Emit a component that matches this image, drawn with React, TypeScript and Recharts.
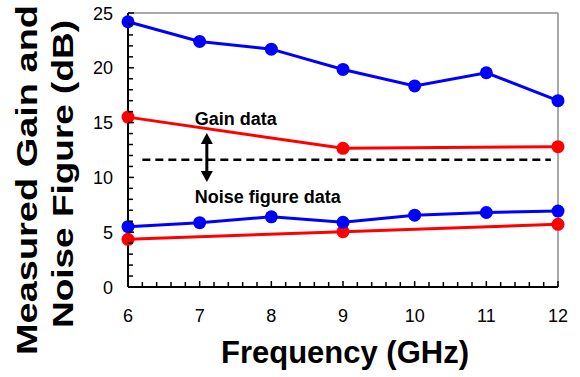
import React from "react";
import { LineChart, Line, XAxis, YAxis, ReferenceLine, ReferenceDot } from "recharts";

const freqGHz = [6, 7, 8, 9, 10, 11, 12];
const gainMeasured = [24.2, 22.4, 21.7, 19.85, 18.35, 19.55, 17.0];
const gainSimulated = [15.5, null, null, 12.65, null, null, 12.8];
const nfMeasured = [5.5, 5.87, 6.4, 5.9, 6.55, 6.8, 6.93];
const nfSimulated = [4.35, null, null, 5.05, null, null, 5.72];

const yMajorTicks = [0, 5, 10, 15, 20, 25];
const xMajorTicks = [6, 7, 8, 9, 10, 11, 12];
const dividerLevel = 11.6;
const dividerStart = 6.2;
const dividerEnd = 11.9;
const arrowX = 7.1;
const arrowTop = 14.05;
const arrowBottom = 9.58;
const gainLabel = { x: 6.93, y: 14.78, text: "Gain data" };
const nfLabel = { x: 6.93, y: 7.66, text: "Noise figure data" };

const data = freqGHz.map((f, i) => ({
  f,
  gm: gainMeasured[i],
  gs: gainSimulated[i],
  nm: nfMeasured[i],
  ns: nfSimulated[i],
}));

const yTicks: number[] = [];
for (let v = 0; v <= 25; v += 1) yTicks.push(v);
const xTicks: number[] = [];
for (let k = 0; k <= 30; k += 1) xTicks.push(Math.round((6 + k * 0.2) * 10) / 10);

const FONT = "'Liberation Sans', Arial, Helvetica, sans-serif";
const BLUE = "#0000ff";
const RED = "#ff0000";

const YTick = (props: any) => {
  const { x, y, payload } = props;
  const v = payload.value;
  const major = yMajorTicks.includes(v);
  return (
    <g>
      <line x1={x} x2={x + (major ? 6 : 5)} y1={y} y2={y} stroke="#000" strokeWidth={1.5} />
      {major && (
        <text x={x - 15} y={y} dy={6.5} textAnchor="end" fontSize={18} fontFamily={FONT} fill="#000">
          {v}
        </text>
      )}
    </g>
  );
};

const XTick = (props: any) => {
  const { x, y, payload } = props;
  const v = payload.value;
  const major = xMajorTicks.some((m) => Math.abs(m - v) < 1e-6);
  return (
    <g>
      <line x1={x} x2={x} y1={y} y2={y - (major ? 6 : 5)} stroke="#000" strokeWidth={1.5} />
      {major && (
        <text x={x} y={y + 35} textAnchor="middle" fontSize={18} fontFamily={FONT} fill="#000">
          {Math.round(v)}
        </text>
      )}
    </g>
  );
};

const YTitle = (props: any) => {
  const { viewBox } = props;
  const cy = viewBox.y + viewBox.height / 2 + 27;
  return (
    <g fontFamily={FONT} fontWeight="bold" fontSize={30} fill="#000">
      <text
        transform={`translate(37, ${cy + 3}) rotate(-90)`}
        textAnchor="middle"
        textLength={350}
        lengthAdjust="spacingAndGlyphs"
      >
        Measured Gain and
      </text>
      <text
        transform={`translate(73, ${cy - 3}) rotate(-90)`}
        textAnchor="middle"
        textLength={308}
        lengthAdjust="spacingAndGlyphs"
      >
        Noise Figure (dB)
      </text>
    </g>
  );
};

const XTitle = (props: any) => {
  const { viewBox } = props;
  const cx = viewBox.x + viewBox.width / 2 + 2;
  return (
    <text x={cx} y={363} textAnchor="middle" fontFamily={FONT} fontWeight="bold" fontSize={31} fill="#000">
      Frequency (GHz)
    </text>
  );
};

const ArrowShape = (props: any) => {
  const { x1, y1, y2 } = props;
  const top = Math.min(y1, y2);
  const bot = Math.max(y1, y2);
  const hl = 11;
  const hw = 6;
  return (
    <g>
      <line x1={x1} x2={x1} y1={top + hl - 1} y2={bot - hl + 1} stroke="#000" strokeWidth={3} />
      <polygon points={`${x1},${top} ${x1 - hw},${top + hl} ${x1 + hw},${top + hl}`} fill="#000" />
      <polygon points={`${x1},${bot} ${x1 - hw},${bot - hl} ${x1 + hw},${bot - hl}`} fill="#000" />
    </g>
  );
};

const makeTextShape = (text: string) => (props: any) => {
  const { cx, cy } = props;
  return (
    <text x={cx} y={cy} fontFamily={FONT} fontWeight="bold" fontSize={18} fill="#000">
      {text}
    </text>
  );
};

export default function App() {
  return (
    <div style={{ position: "absolute", left: 0, top: 0, width: 580, height: 377, background: "#fff" }}>
      <LineChart width={580} height={377} data={data} margin={{ top: 13, right: 22, bottom: 0, left: 0 }}>
        <XAxis
          dataKey="f"
          type="number"
          domain={[6, 12]}
          ticks={xTicks}
          interval={0}
          tickSize={0}
          tickMargin={0}
          tickLine={false}
          tick={<XTick />}
          height={90}
          axisLine={{ stroke: "#000", strokeWidth: 2 }}
          label={{ content: <XTitle /> } as any}
        />
        <YAxis
          type="number"
          domain={[0, 25]}
          ticks={yTicks}
          interval={0}
          tickSize={0}
          tickMargin={0}
          tickLine={false}
          tick={<YTick />}
          width={128}
          axisLine={{ stroke: "#000", strokeWidth: 2 }}
          label={{ content: <YTitle /> } as any}
        />
        <ReferenceLine y={25} stroke="#8c8c8c" strokeWidth={1.5} />
        <ReferenceLine x={12} stroke="#8c8c8c" strokeWidth={1.5} />
        <ReferenceLine
          segment={[
            { x: dividerStart, y: dividerLevel },
            { x: dividerEnd, y: dividerLevel },
          ]}
          stroke="#000"
          strokeWidth={2.5}
          strokeDasharray="8 5"
        />
        <ReferenceLine
          segment={[
            { x: arrowX, y: arrowTop },
            { x: arrowX, y: arrowBottom },
          ]}
          shape={<ArrowShape />}
        />
        <ReferenceDot x={gainLabel.x} y={gainLabel.y} r={0} shape={makeTextShape(gainLabel.text)} />
        <ReferenceDot x={nfLabel.x} y={nfLabel.y} r={0} shape={makeTextShape(nfLabel.text)} />
        <Line
          type="linear"
          dataKey="gs"
          stroke={RED}
          strokeWidth={3}
          connectNulls
          dot={{ r: 6.5, fill: RED, stroke: RED, strokeWidth: 0 }}
          activeDot={false}
          isAnimationActive={false}
        />
        <Line
          type="linear"
          dataKey="ns"
          stroke={RED}
          strokeWidth={3}
          connectNulls
          dot={{ r: 6.5, fill: RED, stroke: RED, strokeWidth: 0 }}
          activeDot={false}
          isAnimationActive={false}
        />
        <Line
          type="linear"
          dataKey="gm"
          stroke={BLUE}
          strokeWidth={3}
          dot={{ r: 6.5, fill: BLUE, stroke: BLUE, strokeWidth: 0 }}
          activeDot={false}
          isAnimationActive={false}
        />
        <Line
          type="linear"
          dataKey="nm"
          stroke={BLUE}
          strokeWidth={3}
          dot={{ r: 6.5, fill: BLUE, stroke: BLUE, strokeWidth: 0 }}
          activeDot={false}
          isAnimationActive={false}
        />
      </LineChart>
    </div>
  );
}
